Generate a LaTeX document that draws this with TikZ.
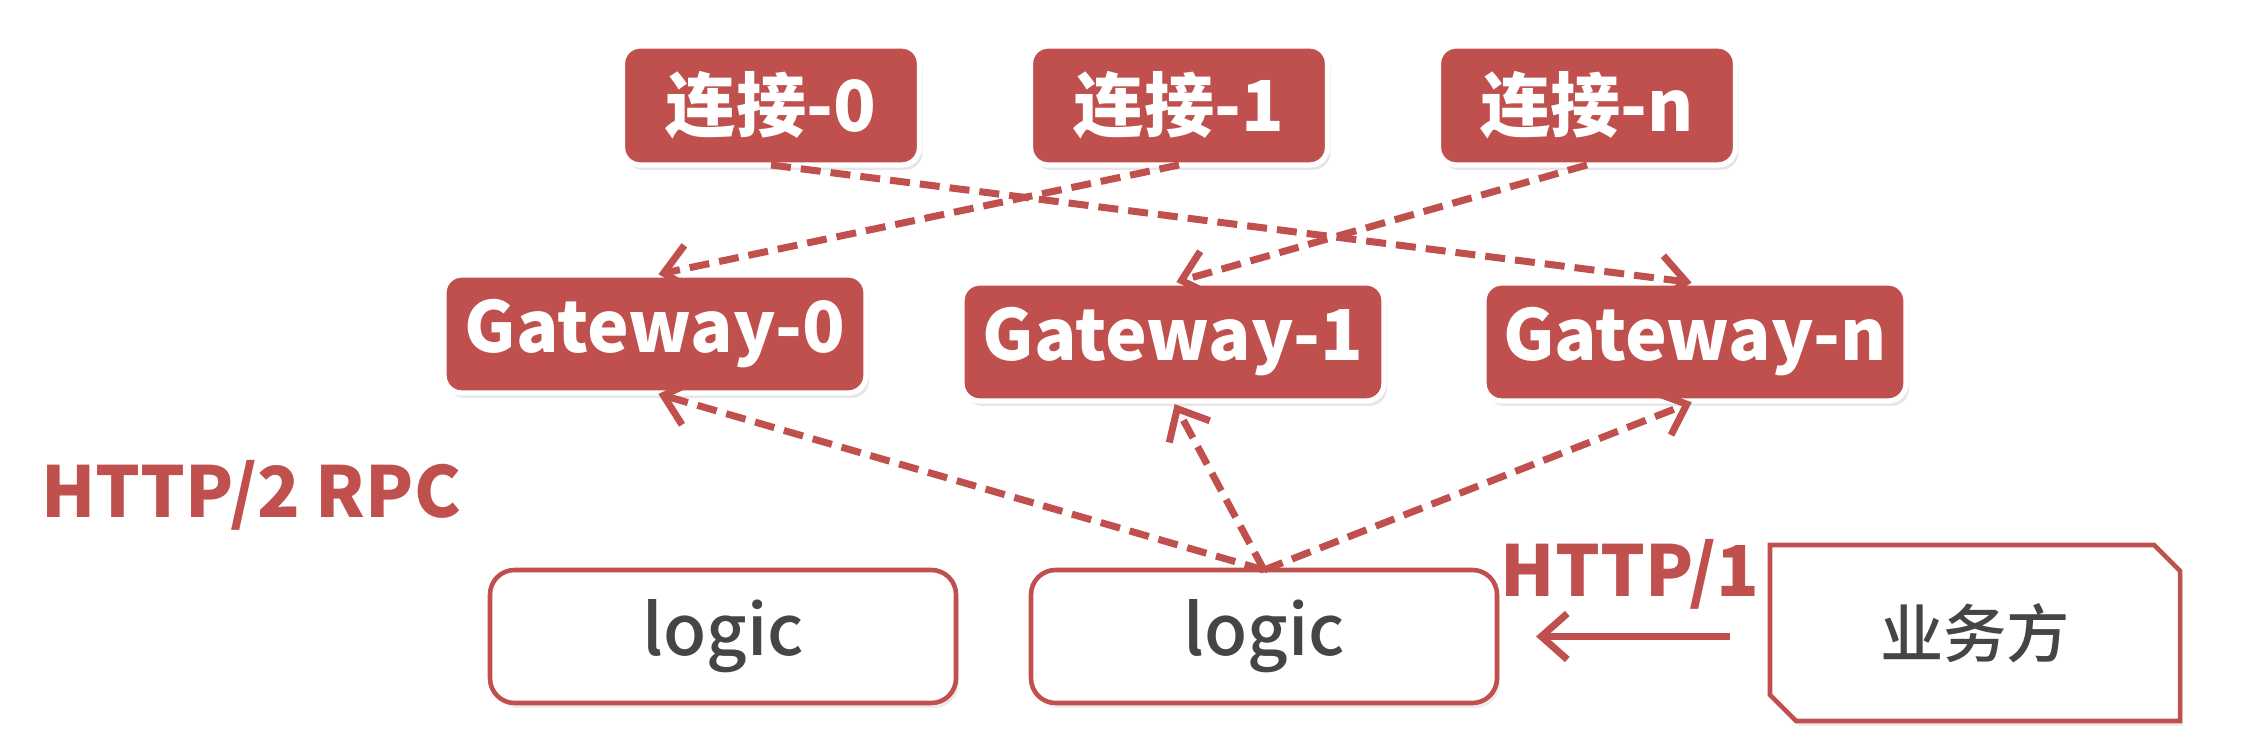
\documentclass[tikz,border=0pt]{standalone}
\usepackage{fontspec}
\setmainfont{Noto Sans CJK SC}
\newfontfamily\medfont{Noto Sans CJK SC Medium}
\usetikzlibrary{positioning,arrows.meta,shapes.misc,shadows}

\definecolor{boxred}{HTML}{C0504D}
\definecolor{txtgray}{HTML}{454545}

\tikzset{
  conn/.style={rectangle, rounded corners=5pt, fill=boxred, draw=white, line width=1.5pt,
    minimum width=2.97cm, minimum height=1.19cm, outer sep=0pt, text=white,
    font=\fontsize{20}{24}\selectfont\bfseries,
    drop shadow={opacity=0.2, shadow xshift=0.03cm, shadow yshift=-0.05cm}},
  gate/.style={conn, minimum width=4.22cm, minimum height=1.18cm},
  logicbox/.style={rectangle, rounded corners=7pt, fill=white, draw=boxred, line width=1.3pt,
    minimum width=4.66cm, minimum height=1.33cm, outer sep=0pt, text=txtgray,
    font=\fontsize{20}{24}\medfont,
    drop shadow={opacity=0.15, shadow xshift=0.03cm, shadow yshift=-0.05cm}},
  bizbox/.style={chamfered rectangle, chamfered rectangle corners={north east,south west},
    chamfered rectangle sep=0.13cm, fill=white, draw=boxred, line width=1.3pt,
    minimum width=4.1cm, minimum height=1.76cm, outer sep=0pt, text=txtgray,
    font=\fontsize{18}{22}\medfont,
    drop shadow={opacity=0.15, shadow xshift=0.03cm, shadow yshift=-0.05cm}},
  proto/.style={text=boxred, font=\fontsize{20}{24}\selectfont\bfseries},
  link/.style={->, dash pattern=on 0.2cm off 0.1cm, line width=2pt, draw=boxred, shorten >=1pt},
  call/.style={->, line width=2pt, draw=boxred}
}

\begin{document}
\begin{tikzpicture}[>={Straight Barb[length=2.6mm,width=4.6mm]}]
  \useasboundingbox (0,0) rectangle (22.44,7.46);

  % connections
  \node[conn] (conn0) at (7.71,6.405) {连接-0};
  \node[conn, right=1.11cm of conn0] (conn1) {连接-1};
  \node[conn, right=1.11cm of conn1] (connn) {连接-n};

  % gateways
  \node[gate] (gw0) at (6.55,4.12) {Gateway-0};
  \node[gate] (gw1) at (11.73,4.04) {Gateway-1};
  \node[gate, right=1.0cm of gw1] (gwn) {Gateway-n};

  \node[proto] (rpc) at (2.51,2.51) {HTTP/2 RPC};

  % logic layer
  \node[logicbox] (logic1) at (7.23,1.095) {logic};
  \node[logicbox, right=0.75cm of logic1] (logic2) {logic};

  \node[proto] (http) at (16.30,1.72) {HTTP/1};
  \node[bizbox] (biz) at (19.75,1.13) {业务方};

  \draw[link] (conn0.south) -- (gwn.north);
  \draw[link] (conn1.south) -- (gw0.north);
  \draw[link] (connn.south) -- (gw1.north);

  \draw[link] (logic2.north) -- (gw0.south);
  \draw[link] (logic2.north) -- (gw1.south);
  \draw[link] (logic2.north) -- (gwn.south);

  \draw[call, shorten <=0.4cm, shorten >=0.39cm] (biz.west |- logic2.east) -- (logic2.east);
\end{tikzpicture}
\end{document}
